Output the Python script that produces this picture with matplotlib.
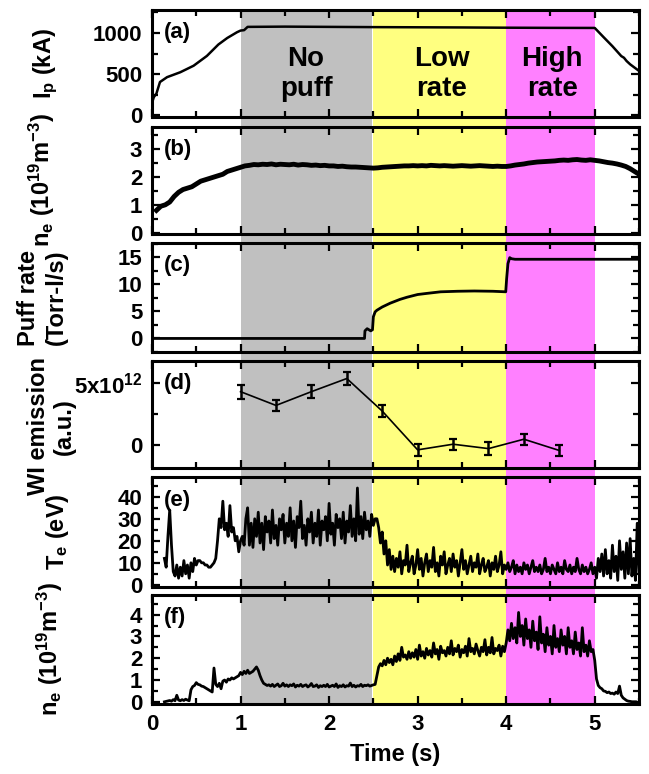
import numpy as np
import matplotlib
matplotlib.use("Agg")
import matplotlib.pyplot as plt
from matplotlib.ticker import MultipleLocator, FixedLocator, FuncFormatter

plt.rcParams['font.family'] = ['Liberation Sans', 'DejaVu Sans']
plt.rcParams['font.weight'] = 'bold'
plt.rcParams['axes.labelweight'] = 'bold'
plt.rcParams['mathtext.fontset'] = 'custom'
plt.rcParams['mathtext.rm'] = 'Liberation Sans:bold'
plt.rcParams['mathtext.bf'] = 'Liberation Sans:bold'
plt.rcParams['mathtext.it'] = 'Liberation Sans:bold'
plt.rcParams['mathtext.default'] = 'bf'

# ---------------- data ----------------
# shaded operating phases
phase_start = [1.0, 2.5, 4.0]
phase_end = [2.485, 4.0, 5.0]
phase_color = ['#c0c0c0', '#ffff80', '#ff80ff']
phase_label = ['No\npuff', 'Low\nrate', 'High\nrate']
phase_label_t = [1.74, 3.27, 4.52]

# (a) plasma current
ip_t = [0.0, 0.02, 0.05, 0.09, 0.17, 0.32, 0.47, 0.62, 0.75, 0.85,
        0.96, 1.0, 1.04, 1.08, 1.5, 2.0, 2.5, 3.0, 3.5, 4.0, 4.5, 5.0, 5.1,
        5.2, 5.3, 5.33, 5.36, 5.4, 5.5]
ip_kA = [150, 220, 265, 405, 464, 524, 603, 722, 861, 940,
         1010, 1030, 1035, 1075, 1078, 1075, 1072, 1070, 1068, 1065, 1063, 1062, 950,
         840, 720, 700, 660, 620, 540]

# (b) line-averaged density, sampled every 0.05 s from 0.05 s
ne_core_t0 = 0.05
ne_core_dt = 0.05
ne_core = [0.80, 0.95, 1.00, 1.10, 1.30, 1.45, 1.55, 1.60, 1.65, 1.75,
           1.85, 1.90, 1.95, 2.00, 2.05, 2.10, 2.20, 2.25, 2.30, 2.35,
           2.40, 2.42, 2.45, 2.44, 2.46, 2.45, 2.47, 2.44, 2.46, 2.45,
           2.44, 2.46, 2.43, 2.45, 2.44, 2.42, 2.43, 2.41, 2.42, 2.40,
           2.40, 2.38, 2.39, 2.37, 2.36, 2.36, 2.35, 2.34, 2.33, 2.32,
           2.33, 2.35, 2.36, 2.37, 2.38, 2.39, 2.40, 2.40, 2.41, 2.40,
           2.41, 2.40, 2.42, 2.41, 2.40, 2.41, 2.40, 2.39, 2.40, 2.41,
           2.40, 2.39, 2.40, 2.41, 2.40, 2.39, 2.38, 2.39, 2.38, 2.38,
           2.40, 2.43, 2.45, 2.47, 2.50, 2.52, 2.54, 2.55, 2.56, 2.57,
           2.58, 2.60, 2.61, 2.60, 2.62, 2.63, 2.61, 2.60, 2.62, 2.60,
           2.58, 2.55, 2.52, 2.50, 2.47, 2.43, 2.38, 2.30, 2.20, 2.10]

# (c) gas puff rate
puff_t = [0.0, 2.40, 2.405, 2.43, 2.45, 2.47, 2.49, 2.50, 2.52, 2.54, 2.60, 2.69,
          2.80, 2.88, 3.00, 3.10, 3.26, 3.45, 3.64, 3.85, 3.995, 4.005, 4.02,
          4.04, 4.06, 4.10, 4.5, 5.0, 5.5]
puff_rate = [0.0, 0.0, 1.4, 1.8, 1.6, 1.4, 1.6, 4.0, 4.9, 5.2, 5.8, 6.5,
             7.2, 7.6, 8.1, 8.3, 8.6, 8.7, 8.75, 8.7, 8.6, 11.0, 13.8,
             14.9, 14.7, 14.6, 14.6, 14.6, 14.6]

# (d) WI line emission
wi_t = [1.0, 1.4, 1.8, 2.2, 2.6, 3.0, 3.4, 3.8, 4.2, 4.6]
wi_val = [4.3e12, 3.2e12, 4.3e12, 5.35e12, 2.75e12, -0.35e12, 0.1e12, -0.25e12, 0.5e12, -0.4e12]
wi_err = [0.55e12, 0.45e12, 0.5e12, 0.5e12, 0.45e12, 0.5e12, 0.45e12, 0.5e12, 0.45e12, 0.45e12]

# (e) divertor electron temperature, sampled every 0.02 s from 0.14 s
te_t0 = 0.14
te_dt = 0.02
te_eV = [12, 8, 22, 34, 18, 6, 4, 9, 3, 8,
         4, 11, 5, 9, 3, 10, 6, 12, 9, 11,
         11, 10, 10, 9, 9, 8, 8, 9, 10, 12,
         20, 30, 26, 38, 25, 28, 22, 36, 24, 26,
         20, 22, 15, 20, 22, 18, 30, 35, 18, 28,
         17, 30, 22, 33, 19, 28, 16, 31, 24, 29,
         19, 34, 21, 27, 18, 30, 25, 32, 19, 28,
         22, 35, 20, 29, 17, 31, 26, 38, 21, 27,
         18, 30, 24, 33, 19, 28, 22, 34, 18, 29,
         25, 31, 20, 37, 23, 28, 18, 32, 26, 30,
         21, 33, 19, 29, 24, 36, 22, 30, 20, 44,
         23, 31, 21, 33, 25, 29, 22, 32, 27, 30,
         30, 26, 19, 24, 14, 20, 9, 16, 7, 13,
         6, 12, 8, 15, 5, 11, 9, 18, 6, 10,
         13, 5, 9, 16, 7, 12, 4, 10, 14, 6,
         11, 8, 17, 6, 10, 4, 13, 9, 15, 5,
         9, 12, 6, 14, 8, 11, 4, 10, 16, 7,
         11, 5, 9, 13, 6, 10, 8, 14, 5, 9,
         12, 6, 8, 11, 4, 10, 7, 13, 6, 9,
         15, 5, 9, 7, 10, 6, 8, 11, 5, 9,
         6, 8, 5, 10, 7, 9, 5, 8, 11, 6,
         8, 6, 9, 5, 7, 12, 6, 8, 5, 9,
         7, 5, 10, 6, 8, 5, 11, 7, 6, 9,
         5, 8, 6, 12, 7, 5, 9, 6, 8, 5,
         7, 10, 5, 8, 3, 12, 6, 14, 4, 16,
         5, 11, 3, 18, 6, 13, 2, 20, 7, 15,
         3, 19, 5, 21, 4, 12, 2, 28, 6]

# (f) divertor electron density, sampled every 0.02 s from 0.14 s
nd_t0 = 0.14
nd_dt = 0.02
ne_div = [0.00, 0.02, 0.04, 0.06, 0.03, 0.10, 0.05, 0.30, 0.08, 0.05,
          0.10, 0.06, 0.12, 0.08, 0.05, 0.55, 0.70, 0.75, 0.88, 0.80,
          0.78, 0.72, 0.70, 0.65, 0.60, 0.55, 0.50, 0.45, 1.55, 0.80,
          0.70, 0.85, 0.60, 0.95, 1.00, 0.90, 1.05, 1.00, 1.10, 1.05,
          1.10, 1.15, 1.20, 1.35, 1.25, 1.40, 1.30, 1.45, 1.30, 1.35,
          1.40, 1.50, 1.60, 1.45, 1.20, 1.00, 0.85, 0.80, 0.75, 0.78,
          0.72, 0.80, 0.70, 0.76, 0.82, 0.70, 0.74, 0.85, 0.72, 0.78,
          0.70, 0.78, 0.74, 0.82, 0.68, 0.76, 0.72, 0.80, 0.70, 0.75,
          0.78, 0.68, 0.74, 0.84, 0.70, 0.72, 0.78, 0.66, 0.74, 0.70,
          0.76, 0.70, 0.80, 0.68, 0.72, 0.76, 0.70, 0.82, 0.66, 0.74,
          0.70, 0.78, 0.68, 0.74, 0.72, 0.86, 0.70, 0.76, 0.68, 0.74,
          0.72, 0.80, 0.70, 0.76, 0.74, 0.78, 0.72, 0.75, 0.78, 0.80,
          1.20, 1.60, 1.75, 1.65, 1.90, 1.70, 2.00, 1.80, 1.95, 1.70,
          2.10, 1.85, 2.20, 1.90, 2.50, 2.05, 2.15, 1.95, 2.30, 2.00,
          2.25, 2.05, 2.40, 1.95, 2.60, 2.10, 2.30, 2.00, 2.45, 2.15,
          2.35, 2.05, 2.70, 2.20, 2.40, 1.95, 2.55, 2.25, 2.35, 2.10,
          2.50, 2.20, 2.80, 2.15, 2.45, 2.30, 2.60, 2.05, 2.40, 2.25,
          2.55, 2.10, 2.90, 2.30, 2.45, 2.20, 2.65, 2.35, 2.10, 2.50,
          2.30, 2.85, 2.15, 2.50, 2.25, 2.95, 2.20, 2.45, 2.35, 2.60,
          2.10, 2.55, 2.30, 2.70, 3.30, 2.80, 3.60, 2.90, 3.40, 2.70,
          4.10, 3.00, 3.50, 2.60, 3.80, 2.90, 3.30, 2.50, 3.70, 2.80,
          3.20, 2.40, 3.90, 2.70, 3.10, 2.30, 3.40, 2.60, 3.00, 2.20,
          3.50, 2.50, 2.90, 2.30, 3.30, 2.60, 3.00, 2.20, 3.40, 2.50,
          2.80, 2.20, 3.20, 2.40, 2.70, 2.10, 3.40, 2.30, 2.60, 2.10,
          2.80, 2.30, 2.40, 1.90, 1.05, 0.75, 0.65, 0.60, 0.50, 0.48,
          0.42, 0.45, 0.38, 0.40, 0.35, 0.45, 0.38, 0.72, 0.30, 0.18,
          0.12, 0.06, 0.03, 0.02, 0.00, 0.00, 0.00]

x_ticks = [0, 1, 2, 3, 4, 5]
panel_tags = ['(a)', '(b)', '(c)', '(d)', '(e)', '(f)']

# ---------------- layout ----------------
W, H = 649, 774
fig = plt.figure(figsize=(W / 100, H / 100), dpi=100)
left_px, right_px = 152, 639
tops = [10, 127, 243, 361, 477, 595]
bots = [117, 234, 352, 468, 587, 704]

tick_fs = 16
lab_fs = 17


def rect(top, bot):
    return [left_px / W, 1 - bot / H, (right_px - left_px) / W, (bot - top) / H]


def ylabel(ax, text, x, y=0.5, **kw):
    ax.set_ylabel(text, fontsize=lab_fs, va='center', ha='center', **kw)
    ax.yaxis.set_label_coords(x, y)


# background axis carrying the phase shading through all panels
bg = fig.add_axes(rect(tops[0], bots[-1]), zorder=0)
bg.set_xlim(0, 5.5)
bg.set_ylim(0, 1)
for s, e, c in zip(phase_start, phase_end, phase_color):
    bg.axvspan(s, e, color=c, lw=0)
bg.axis('off')

axes = [fig.add_axes(rect(t, b), zorder=1) for t, b in zip(tops, bots)]
spine_w = 2.2
for ax, tag in zip(axes, panel_tags):
    ax.set_facecolor('none')
    ax.set_xlim(0, 5.5)
    ax.xaxis.set_major_locator(FixedLocator(x_ticks))
    ax.xaxis.set_minor_locator(MultipleLocator(0.5))
    ax.tick_params(which='both', direction='in', top=True, right=True,
                   labelsize=tick_fs, width=1.6, pad=7)
    ax.tick_params(which='major', length=5.5)
    ax.tick_params(which='minor', length=4)
    for sp in ax.spines.values():
        sp.set_linewidth(spine_w)
    ax.text(0.025, 0.79, tag, transform=ax.transAxes, fontsize=16,
            fontweight='bold', va='center', ha='left')
    if ax is not axes[-1]:
        ax.tick_params(labelbottom=False)

# (a)
ax = axes[0]
ax.plot(ip_t, ip_kA, color='k', lw=1.8)
ax.set_ylim(-20, 1280)
ax.yaxis.set_major_locator(FixedLocator([0, 500, 1000]))
ax.yaxis.set_minor_locator(MultipleLocator(250))
ylabel(ax, 'I$_\\mathbf{p}$ (kA)', -0.218)
for tc, lbl in zip(phase_label_t, phase_label):
    ax.text(tc, 505, lbl, ha='center', va='center', fontsize=20,
            fontweight='bold', linespacing=1.2)

# (b)
ax = axes[1]
tb = ne_core_t0 + ne_core_dt * np.arange(len(ne_core))
ax.plot(tb, ne_core, color='k', lw=3.5)
ax.set_ylim(-0.05, 3.8)
ax.yaxis.set_major_locator(MultipleLocator(1))
ax.yaxis.set_minor_locator(MultipleLocator(0.5))
ylabel(ax, 'n$_\\mathbf{e}$ (10$^\\mathbf{19}$m$^\\mathbf{-3}$)', -0.226)

# (c)
ax = axes[2]
ax.plot(puff_t, puff_rate, color='k', lw=2.0)
ax.set_ylim(-2.5, 17.6)
ax.yaxis.set_major_locator(MultipleLocator(5))
ax.yaxis.set_minor_locator(MultipleLocator(2.5))
ylabel(ax, 'Puff rate\n(Torr-l/s)', -0.225, linespacing=1.25)

# (d)
ax = axes[3]
ax.errorbar(wi_t, wi_val, yerr=wi_err, color='k', lw=1.2, elinewidth=1.8,
            capsize=3, capthick=1.6)
ax.set_ylim(-1.8e12, 6.75e12)
ax.yaxis.set_major_locator(FixedLocator([0, 5e12]))
ax.yaxis.set_minor_locator(MultipleLocator(2.5e12))
ax.yaxis.set_major_formatter(FuncFormatter(
    lambda v, p: '0' if v == 0 else '5x10$^\\mathbf{12}$'))
ylabel(ax, 'WI emission\n(a.u.)', -0.206, 0.39, linespacing=1.15)

# (e)
ax = axes[4]
te_time = te_t0 + te_dt * np.arange(len(te_eV))
ax.plot(te_time, te_eV, color='k', lw=2.0)
ax.set_ylim(-1, 49)
ax.yaxis.set_major_locator(MultipleLocator(10))
ax.yaxis.set_minor_locator(MultipleLocator(5))
ylabel(ax, 'T$_\\mathbf{e}$ (eV)', -0.195)

# (f)
ax = axes[5]
nd_time = nd_t0 + nd_dt * np.arange(len(ne_div))
ax.plot(nd_time, ne_div, color='k', lw=2.0)
ax.set_ylim(-0.1, 4.9)
ax.yaxis.set_major_locator(MultipleLocator(1))
ax.yaxis.set_minor_locator(MultipleLocator(0.5))
ylabel(ax, 'n$_\\mathbf{e}$ (10$^\\mathbf{19}$m$^\\mathbf{-3}$)', -0.209)
ax.set_xlabel('Time (s)', fontsize=lab_fs, fontweight='bold', labelpad=6)

fig.savefig('out.png', dpi=100)
